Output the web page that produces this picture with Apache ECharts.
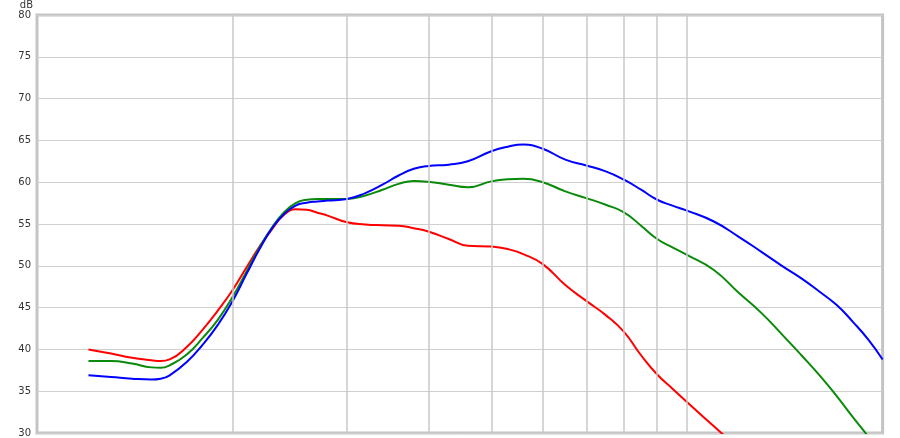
<!DOCTYPE html>
<html>
<head>
<meta charset="utf-8">
<script src="https://cdn.jsdelivr.net/npm/echarts@6/dist/echarts.min.js"></script>
<style>
html,body{margin:0;padding:0;background:#fff;}
#chart{width:900px;height:438px;}
</style>
</head>
<body>
<div id="chart"></div>
<script>
// Frequencies (relative, log axis from 1 to 20)
const freqs = [1.2,1.3,1.4,1.5,1.55,1.6,1.7,1.8,1.9,2.0,2.1,2.2,2.3,2.4,2.5,2.6,2.7,2.8,3.0,3.2,3.4,3.6,3.8,4.0,4.3,4.6,5.0,5.3,5.6,6.0,6.5,7.0,7.5,8.0,8.5,9.0,9.5,10,11,12,13,14,15,16,17,18,19,20];
const redDb   = [40.0,39.5,39.0,38.7,38.6,38.8,40.3,42.4,44.7,47.1,49.8,52.3,54.4,56.1,56.75,56.7,56.35,56.0,55.2,54.95,54.85,54.8,54.5,54.1,53.2,52.4,52.3,52.0,51.4,50.2,47.7,45.8,44.1,42.1,39.3,37.0,35.3,33.7,30.8,28.2,null,null,null,null,null,null,null,null];
const greenDb = [38.6,38.6,38.3,37.85,37.8,38.1,39.4,41.4,43.6,46.3,49.3,52.2,54.6,56.4,57.5,57.9,58.0,58.0,58.0,58.4,59.1,59.8,60.15,60.05,59.7,59.4,60.1,60.35,60.4,60.0,58.9,58.1,57.3,56.4,54.8,53.2,52.2,51.3,49.5,46.8,44.4,41.8,39.3,36.9,34.4,31.9,29.6,27.4];
const blueDb  = [36.9,36.7,36.5,36.4,36.5,36.9,38.5,40.6,43.0,45.8,49.0,52.0,54.5,56.2,57.2,57.55,57.7,57.8,58.0,58.7,59.7,60.8,61.6,61.95,62.1,62.5,63.7,64.25,64.5,64.0,62.7,62.0,61.3,60.3,59.1,57.9,57.2,56.6,55.3,53.5,51.7,50.0,48.5,46.9,45.3,43.3,41.2,38.8];
const vGridFreqs = [2,3,4,5,6,7,8,9,10];
const yTicks = [30,35,40,45,50,55,60,65,70,75,80];

function pairs(vals){
  const out = [];
  for (let i = 0; i < freqs.length; i++) {
    if (vals[i] !== null) out.push([freqs[i], vals[i]]);
  }
  return out;
}

const chart = echarts.init(document.getElementById('chart'), null, {renderer:'canvas'});
const curve = (name, color, vals) => ({
  name, type:'line', data: pairs(vals), smooth:0.5, symbol:'none', z:3,
  clip:true,
  lineStyle:{color, width:2}
});

chart.setOption({
  animation:false,
  backgroundColor:'#ffffff',
  grid:{left:37, right:17.4, top:14, bottom:2, show:true, borderColor:'#c4c4c4', borderWidth:3, backgroundColor:'transparent'},
  xAxis:{
    type:'log', logBase:10, min:1, max:20,
    axisLine:{show:false}, axisTick:{show:false}, axisLabel:{show:false},
    splitLine:{show:false}
  },
  yAxis:{
    type:'value', min:yTicks[0], max:yTicks[yTicks.length-1], interval:5,
    name:'dB', nameLocation:'end', nameGap:5,
    nameTextStyle:{color:'#333', fontSize:10, fontFamily:'DejaVu Sans', align:'right', verticalAlign:'bottom', padding:[0,4,0,0]},
    axisLine:{show:false}, axisTick:{show:false},
    axisLabel:{color:'#333', fontSize:10, fontFamily:'DejaVu Sans', margin:6},
    splitLine:{show:true, lineStyle:{color:'#cfcfcf', width:1}}
  },
  series:[
    {
      type:'line', data:[], z:1, silent:true,
      markLine:{
        silent:true, symbol:'none', animation:false,
        label:{show:false},
        lineStyle:{color:'#c8c8c8', width:1.5, type:'solid'},
        emphasis:{disabled:true},
        data: vGridFreqs.map(f => ({xAxis:f}))
      }
    },
    curve('Red', '#ff0000', redDb),
    curve('Green', '#0a8a0a', greenDb),
    curve('Blue', '#0000ff', blueDb)
  ]
});
</script>
</body>
</html>
